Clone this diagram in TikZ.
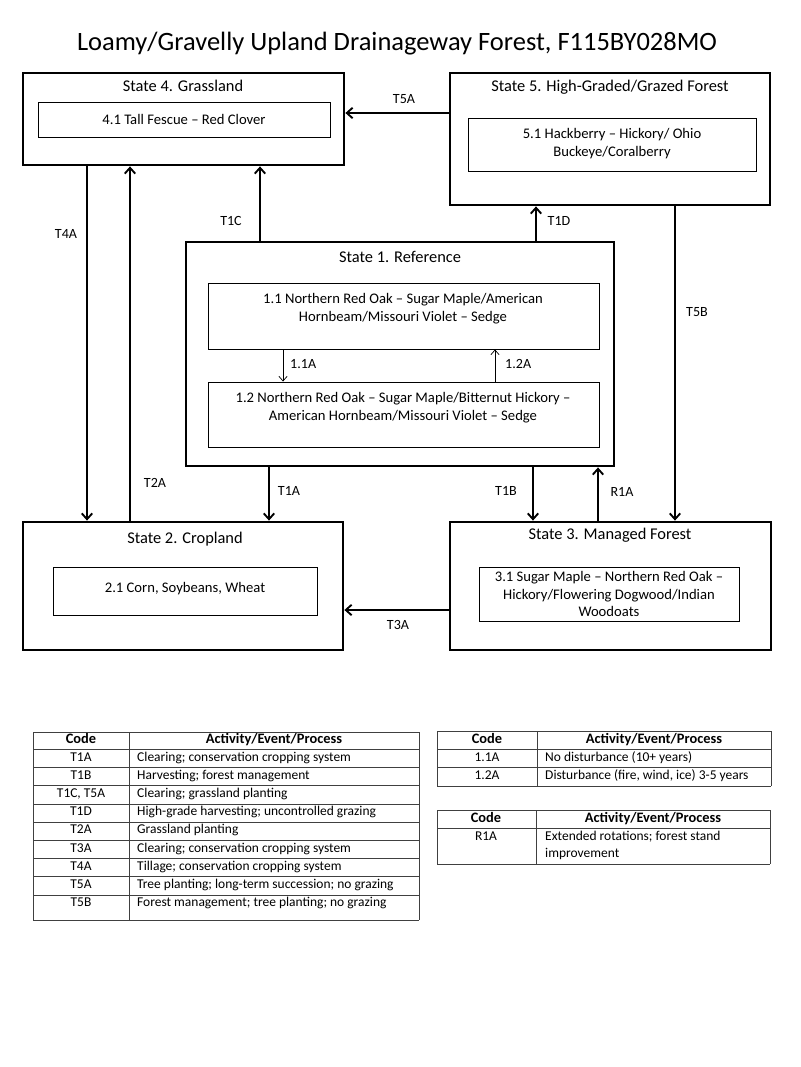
\documentclass[tikz,border=0pt]{standalone}
\usepackage{fontspec}
\setmainfont{Carlito}
\usetikzlibrary{arrows.meta,fit}

\begin{document}
\begin{tikzpicture}[x=0.03cm, y=-0.03cm,
	statebox/.style={draw, line width=2.4pt, inner sep=0pt},
	commbox/.style={draw, line width=0.8pt, inner sep=0pt},
	ttl/.style={font=\fontsize{14}{16}\selectfont, text height=9.5pt, text depth=3pt},
	txt/.style={font=\fontsize{12.5}{15.4}\selectfont, align=center},
	lbl/.style={font=\fontsize{12}{14}\selectfont, text height=8.5pt, text depth=2.5pt},
	arr/.style={line width=1.6pt, -{Straight Barb[length=5pt,width=9pt]}},
	tarr/.style={line width=0.6pt, -{Straight Barb[length=4pt,width=7pt]}},
	cell/.style={font=\fontsize{11.5}{14.5}\selectfont, inner sep=0pt, text height=7.8pt, text depth=2.4pt},
	hcell/.style={cell, font=\fontsize{12.3}{14}\selectfont\bfseries},
	mcell/.style={font=\fontsize{11.5}{14.5}\selectfont, inner sep=0pt, align=left},
	grid/.style={line width=0.7pt, draw=black!75}]
	\useasboundingbox (0,0) rectangle (800,1067);
	\fill[white] (0,0) rectangle (800,1067);

	% title
	\node (title) at (397,44) {\fontsize{22.6}{26}\selectfont Loamy/Gravelly Upland Drainageway Forest, F115BY028MO};

	% states
	\node[statebox, fit={(23,73) (344,165)}] (s4) {};
	\node[ttl] (s4t) at (183,88) {State 4. Grassland};
	\node[commbox, fit={(38,102) (330,137)}] (c41) {};
	\node[txt] (c41t) at (184,119) {4.1 Tall Fescue -- Red Clover};

	\node[statebox, fit={(450,73) (770,205)}] (s5) {};
	\node[ttl] (s5t) at (610,88) {State 5. High-Graded/Grazed Forest};
	\node[commbox, fit={(468,118) (756,171)}] (c51) {};
	\node[txt] (c51t) at (612,144) {5.1 Hackberry -- Hickory/ Ohio\\Buckeye/Coralberry};

	\node[statebox, fit={(186,242) (614,466)}] (s1) {};
	\node[ttl] (s1t) at (400,259) {State 1. Reference};
	\node[commbox, fit={(208,283) (599,349)}] (c11) {};
	\node[txt] (c11t) at (403,309) {1.1 Northern Red Oak -- Sugar Maple/American\\Hornbeam/Missouri Violet -- Sedge};
	\node[commbox, fit={(208,382) (599,447)}] (c12) {};
	\node[txt] (c12t) at (403,408) {1.2 Northern Red Oak -- Sugar Maple/Bitternut Hickory --\\American Hornbeam/Missouri Violet -- Sedge};

	\node[statebox, fit={(23,522) (343,650)}] (s2) {};
	\node[ttl] (s2t) at (185,540) {State 2. Cropland};
	\node[commbox, fit={(53,567) (317,615)}] (c21) {};
	\node[txt] (c21t) at (185,589) {2.1 Corn, Soybeans, Wheat};

	\node[statebox, fit={(450,522) (771,650)}] (s3) {};
	\node[ttl] (s3t) at (610,536) {State 3. Managed Forest};
	\node[commbox, fit={(479,567) (739,621)}] (c31) {};
	\node[txt, font=\fontsize{12.5}{15}\selectfont] (c31t) at (609,594) {3.1 Sugar Maple -- Northern Red Oak --\\Hickory/Flowering Dogwood/Indian\\Woodoats};

	% transitions
	\coordinate (xT4A) at (87,0);
	\coordinate (xT2A) at (130,0);
	\coordinate (xT1C) at (260,0);
	\coordinate (xT1A) at (269,0);
	\coordinate (xT1B) at (533,0);
	\coordinate (xT1D) at (536,0);
	\coordinate (xR1A) at (598,0);
	\coordinate (xT5B) at (675,0);
	\coordinate (yT5A) at (0,113);
	\coordinate (yT3A) at (0,610);
	\coordinate (x11A) at (283,0);
	\coordinate (x12A) at (495,0);

	\draw[arr] (s4.south -| xT4A) -- (s2.north -| xT4A);
	\draw[arr] (s2.north -| xT2A) -- (s4.south -| xT2A);
	\draw[arr] (s1.north -| xT1C) -- (s4.south -| xT1C);
	\draw[arr] (s1.north -| xT1D) -- (s5.south -| xT1D);
	\draw[arr] (s5.south -| xT5B) -- (s3.north -| xT5B);
	\draw[arr] (s1.south -| xT1A) -- (s2.north -| xT1A);
	\draw[arr] (s1.south -| xT1B) -- (s3.north -| xT1B);
	\draw[arr] (s3.north -| xR1A) -- (s1.south -| xR1A);
	\draw[arr] (s5.west |- yT5A) -- (s4.east |- yT5A);
	\draw[arr] (s3.west |- yT3A) -- (s2.east |- yT3A);
	\draw[tarr] (c11.south -| x11A) -- (c12.north -| x11A);
	\draw[tarr] (c12.north -| x12A) -- (c11.south -| x12A);

	\node[lbl] (lT4A) at (66,235) {T4A};
	\node[lbl] (lT2A) at (155,484) {T2A};
	\node[lbl] (lT1C) at (231,222) {T1C};
	\node[lbl] (lT5A) at (404,100) {T5A};
	\node[lbl] (lT1D) at (559,222) {T1D};
	\node[lbl] (lT5B) at (697,313) {T5B};
	\node[lbl] (lT1A) at (289,492) {T1A};
	\node[lbl] (lT1B) at (506,492) {T1B};
	\node[lbl] (lR1A) at (622,493) {R1A};
	\node[lbl] (lT3A) at (398,626) {T3A};
	\node[lbl, anchor=west, inner sep=0pt] (l11A) at (290,365) {1.1A};
	\node[lbl, anchor=west, inner sep=0pt] (l12A) at (505,365) {1.2A};

	% legend tables
	\foreach \y in {732,749,767,785,804,822,840,858,876,895,920}
		\draw[grid] (33,\y) -- (419,\y);
	\foreach \x in {33,129,419}
		\draw[grid] (\x,732) -- (\x,920);
	\node[hcell] (h1c) at (81,740.5) {Code};
	\node[hcell] (h1a) at (274,740.5) {Activity/Event/Process};
	\foreach \c/\a [count=\i from 0] in {T1A/{Clearing; conservation cropping system},
		T1B/{Harvesting; forest management},
		{T1C, T5A}/{Clearing; grassland planting},
		T1D/{High-grade harvesting; uncontrolled grazing},
		T2A/{Grassland planting},
		T3A/{Clearing; conservation cropping system},
		T4A/{Tillage; conservation cropping system},
		T5A/{Tree planting; long-term succession; no grazing},
		T5B/{Forest management; tree planting; no grazing}} {
		\node[cell] (r1c\i) at (81,758+18.2*\i) {\c};
		\node[cell, anchor=west] (r1a\i) at (137,758+18.2*\i) {\a};
	}

	\foreach \y in {731,749,767,786}
		\draw[grid] (437,\y) -- (771,\y);
	\foreach \x in {437,537,771}
		\draw[grid] (\x,731) -- (\x,786);
	\node[hcell] (h2c) at (487,740) {Code};
	\node[hcell] (h2a) at (654,740) {Activity/Event/Process};
	\node[cell] (r2c1) at (487,758) {1.1A};
	\node[cell, anchor=west] (r2a1) at (545,758) {No disturbance (10+ years)};
	\node[cell] (r2c2) at (487,776.5) {1.2A};
	\node[cell, anchor=west] (r2a2) at (545,776.5) {Disturbance (fire, wind, ice) 3-5 years};

	\foreach \y in {810,828,864}
		\draw[grid] (437,\y) -- (770,\y);
	\foreach \x in {437,536,770}
		\draw[grid] (\x,810) -- (\x,864);
	\node[hcell] (h3c) at (486,819) {Code};
	\node[hcell] (h3a) at (653,819) {Activity/Event/Process};
	\node[cell] (r3c1) at (486,837) {R1A};
	\node[mcell, anchor=north west] (r3a1) at (545,830.5) {Extended rotations; forest stand\\improvement};
\end{tikzpicture}
\end{document}
